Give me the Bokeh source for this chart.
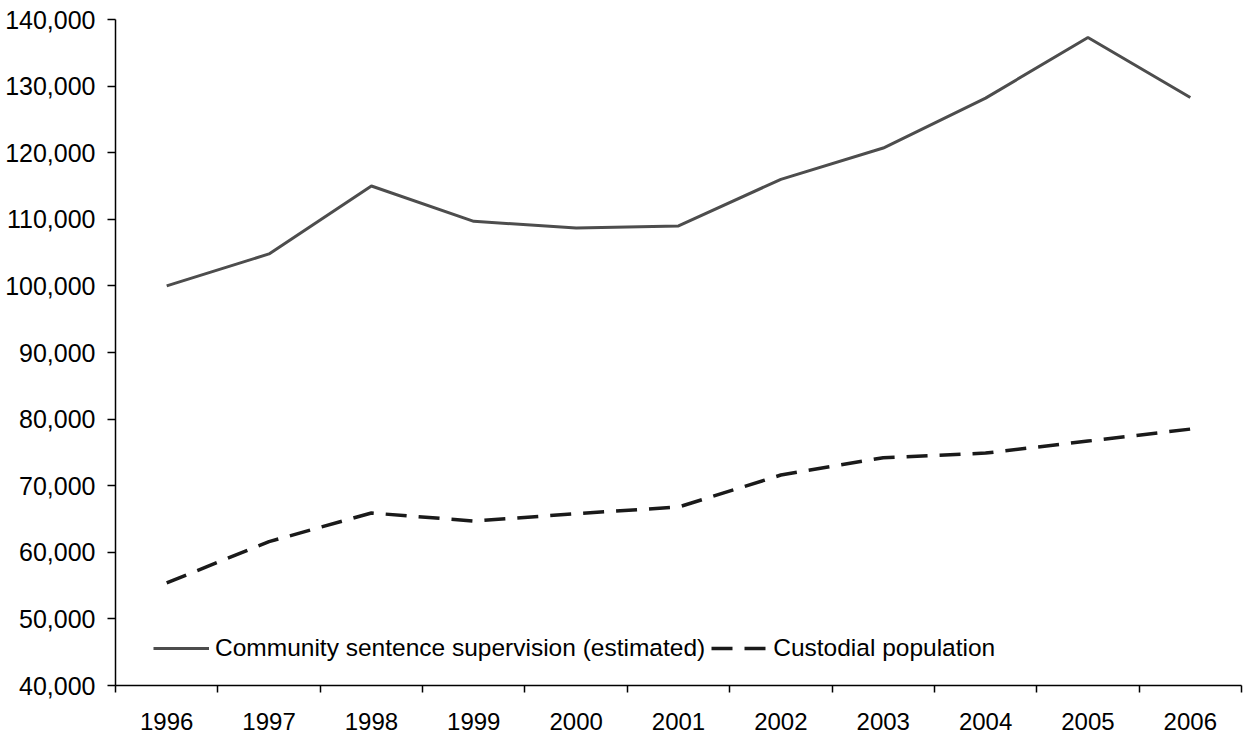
from bokeh.plotting import figure
from bokeh.models import Range1d, FixedTicker, NumeralTickFormatter
from bokeh.embed import file_html
from bokeh.resources import INLINE

years = ["1996", "1997", "1998", "1999", "2000", "2001", "2002", "2003", "2004", "2005", "2006"]
community = [100000, 104800, 115000, 109700, 108700, 109000, 116000, 120700, 128200, 137300, 128300]
custodial = [55400, 61600, 65900, 64700, 65800, 66800, 71600, 74200, 74900, 76700, 78500]
y_ticks = [40000, 50000, 60000, 70000, 80000, 90000, 100000, 110000, 120000, 130000, 140000]

FONT = "Liberation Sans"

xs = list(range(len(years)))

p = figure(width=1244, height=735, output_backend="svg", toolbar_location=None,
           x_range=Range1d(-0.5, len(years) - 0.5), y_range=Range1d(40000, 140000),
           min_border_left=115, min_border_right=3, min_border_top=19, min_border_bottom=50)
p.outline_line_color = None
p.xgrid.visible = False
p.ygrid.visible = False
p.background_fill_color = "white"
p.border_fill_color = "white"

p.line(xs, community, line_color="#4d4d4d", line_width=3, legend_label="Community sentence supervision (estimated)")
p.line(xs, custodial, line_color="#1a1a1a", line_width=3.5, line_dash="21 12", legend_label="Custodial population")

# x axis: labels at centres, ticks at category boundaries
xa = p.xaxis[0]
xa.ticker = FixedTicker(ticks=xs, minor_ticks=[i - 0.5 for i in range(len(years) + 1)])
xa.major_label_overrides = {i: y for i, y in enumerate(years)}
xa.major_tick_line_color = None
xa.major_tick_out = 0
xa.major_tick_in = 0
xa.minor_tick_line_color = "black"
xa.minor_tick_line_width = 1.5
xa.minor_tick_out = 7
xa.minor_tick_in = 0
xa.major_label_standoff = 20
xa.axis_line_color = "black"
xa.axis_line_width = 1.5
xa.major_label_text_font = FONT
xa.major_label_text_font_size = "24px"
xa.major_label_text_color = "black"

ya = p.yaxis[0]
ya.ticker = FixedTicker(ticks=y_ticks, minor_ticks=[])
ya.formatter = NumeralTickFormatter(format="0,0")
ya.major_tick_line_color = "black"
ya.major_tick_line_width = 1.5
ya.major_tick_out = 8
ya.major_tick_in = 0
ya.minor_tick_line_color = None
ya.major_label_standoff = 12
ya.axis_line_color = "black"
ya.axis_line_width = 1.5
ya.major_label_text_font = FONT
ya.major_label_text_font_size = "25px"
ya.major_label_text_color = "black"

lg = p.legend[0]
lg.orientation = "horizontal"
lg.location = (38, 23)
lg.border_line_color = None
lg.background_fill_alpha = 0
lg.glyph_width = 56
lg.glyph_height = 24
lg.label_height = 24
lg.label_standoff = 6
lg.spacing = 6
lg.padding = 0
lg.margin = 0
lg.label_text_font = FONT
lg.label_text_font_size = "24.5px"
lg.label_text_color = "black"

open("out.html", "w").write(file_html(p, INLINE))
